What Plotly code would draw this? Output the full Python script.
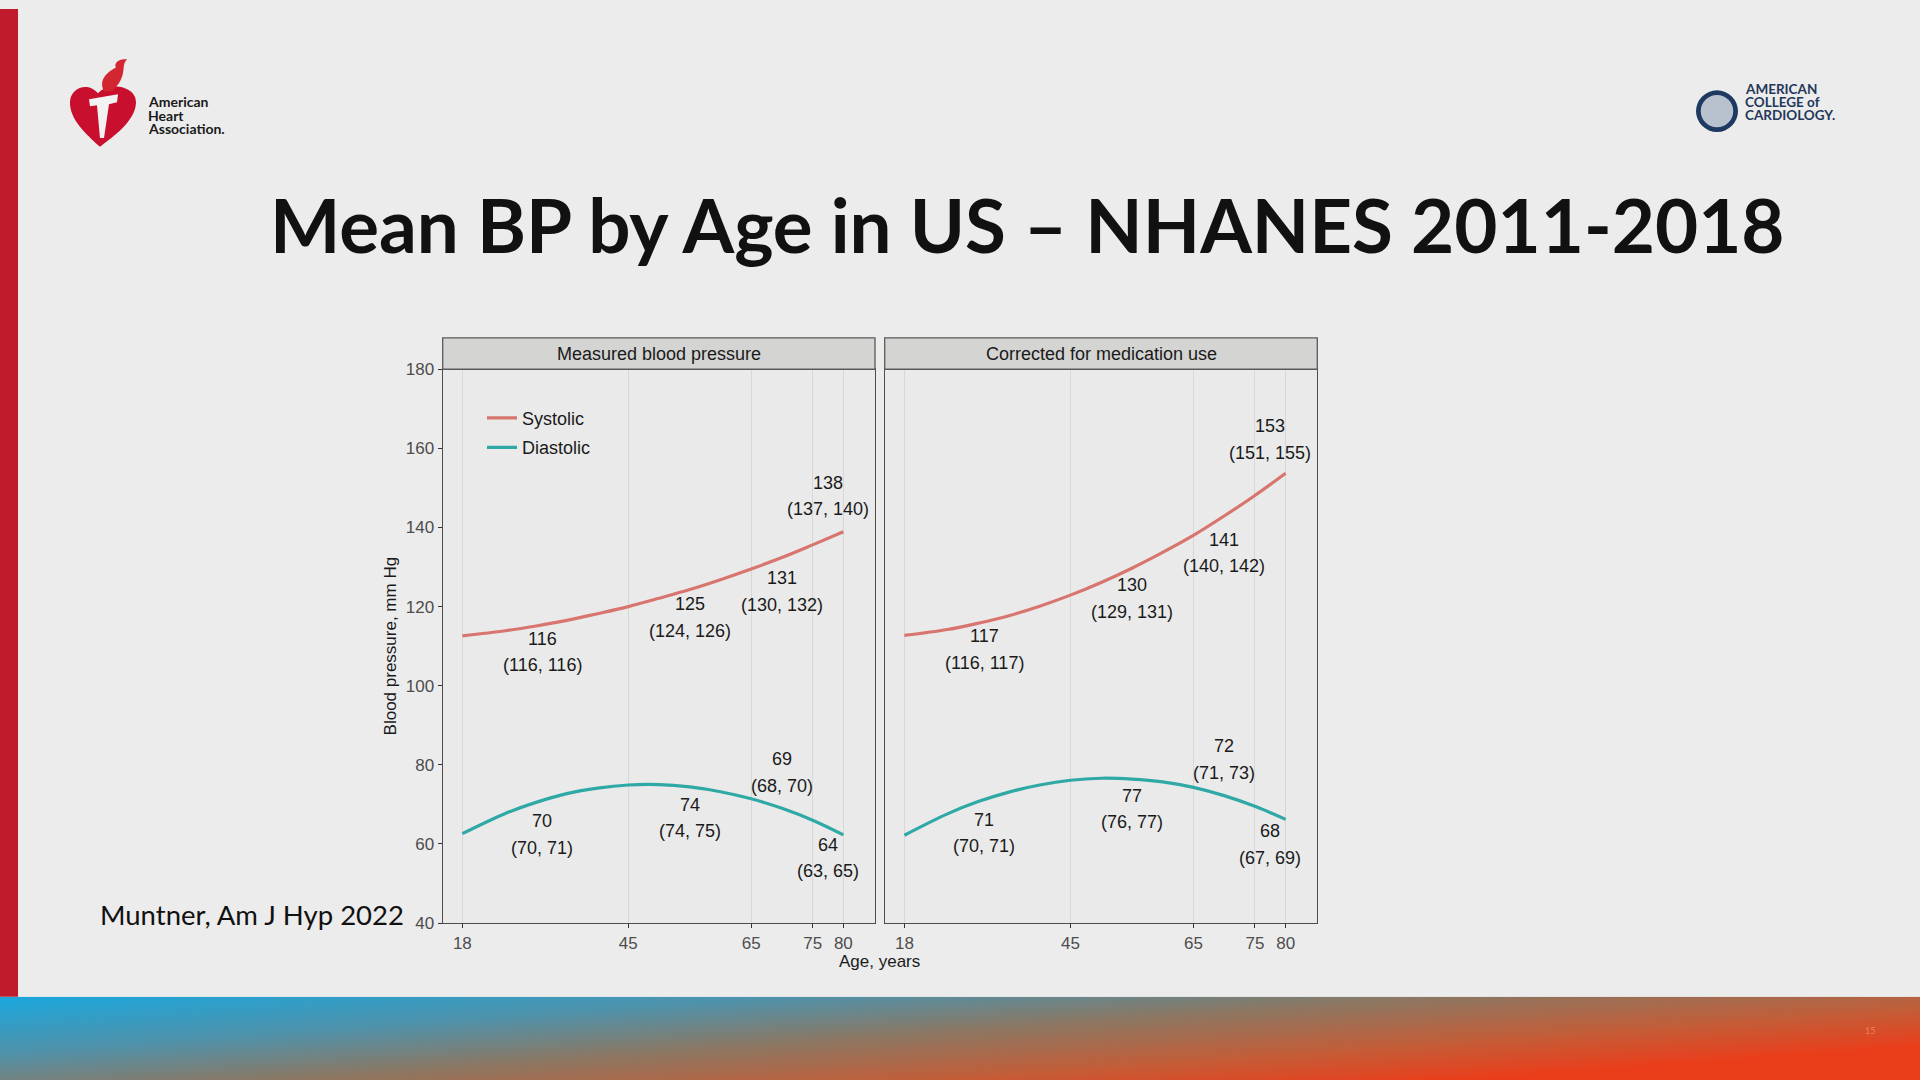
import base64
import plotly.graph_objects as go

W, H = 1920, 1080

ages = [18, 25, 30, 35, 40, 45, 50, 55, 60, 65, 70, 75, 80]

# measured blood pressure (mm Hg)
sbp_measured = [112.6, 113.9, 115.1, 116.5, 118.2, 120.0, 122.1, 124.3, 126.8, 129.5, 132.4, 135.6, 138.9]
dbp_measured = [62.6, 67.7, 70.5, 72.7, 74.1, 74.9, 75.0, 74.4, 73.2, 71.4, 69.0, 66.0, 62.3]

# corrected for medication use (mm Hg)
sbp_corrected = [112.7, 114.2, 115.8, 117.7, 120.1, 122.9, 126.1, 129.7, 133.7, 138.0, 142.9, 148.1, 153.7]
dbp_corrected = [62.2, 67.6, 70.7, 73.1, 74.9, 76.1, 76.6, 76.4, 75.7, 74.3, 72.2, 69.5, 66.2]

# age-group means with 95% CI: 18-44, 45-64, 65-74, 75+
group_mid = [31, 55, 70, 77.5]
sbp_meas_mean = [116, 125, 131, 138]
sbp_meas_ci = [(116, 116), (124, 126), (130, 132), (137, 140)]
dbp_meas_mean = [70, 74, 69, 64]
dbp_meas_ci = [(70, 71), (74, 75), (68, 70), (63, 65)]
sbp_corr_mean = [117, 130, 141, 153]
sbp_corr_ci = [(116, 117), (129, 131), (140, 142), (151, 155)]
dbp_corr_mean = [71, 77, 72, 68]
dbp_corr_ci = [(70, 71), (76, 77), (71, 73), (67, 69)]

# where each two-line label is centred (y in mm Hg)
label_y_sbp_meas = [108.5, 117.3, 123.8, 148.0]
label_y_dbp_meas = [62.4, 66.6, 78.1, 56.4]
label_y_sbp_corr = [109.2, 122.1, 133.6, 162.3]
label_y_dbp_corr = [62.8, 68.8, 81.3, 59.9]

x_ticks = [18, 45, 65, 75, 80]
y_ticks = [40, 60, 80, 100, 120, 140, 160, 180]
panel_titles = ["Measured blood pressure", "Corrected for medication use"]

SYS_COLOR = "#d8756f"
DIA_COLOR = "#2fa9a5"
FONT = "Liberation Sans"


def px(x, y):
    # slide pixel position -> paper coordinates
    return f"{x / W:.5f},{1 - y / H:.5f}"


def paper_text(x, y, text, size, color="#111111", family="Lato", xanchor="center"):
    return dict(x=x / W, y=1 - y / H, xref="paper", yref="paper", showarrow=False,
                xanchor=xanchor, yanchor="middle", text=text,
                font=dict(family=family, size=size, color=color))


fig = go.Figure()

fig.add_trace(go.Scatter(x=ages, y=sbp_measured, mode="lines", name="Systolic", legendgroup="sys",
                         line=dict(color=SYS_COLOR, width=3.2, shape="spline"), xaxis="x", yaxis="y"))
fig.add_trace(go.Scatter(x=ages, y=dbp_measured, mode="lines", name="Diastolic", legendgroup="dia",
                         line=dict(color=DIA_COLOR, width=3.2, shape="spline"), xaxis="x", yaxis="y"))
fig.add_trace(go.Scatter(x=ages, y=sbp_corrected, mode="lines", name="Systolic", legendgroup="sys",
                         showlegend=False, line=dict(color=SYS_COLOR, width=3.2, shape="spline"),
                         xaxis="x2", yaxis="y2"))
fig.add_trace(go.Scatter(x=ages, y=dbp_corrected, mode="lines", name="Diastolic", legendgroup="dia",
                         showlegend=False, line=dict(color=DIA_COLOR, width=3.2, shape="spline"),
                         xaxis="x2", yaxis="y2"))

annotations = []
label_sets = [
    ("x", "y", sbp_meas_mean, sbp_meas_ci, label_y_sbp_meas),
    ("x", "y", dbp_meas_mean, dbp_meas_ci, label_y_dbp_meas),
    ("x2", "y2", sbp_corr_mean, sbp_corr_ci, label_y_sbp_corr),
    ("x2", "y2", dbp_corr_mean, dbp_corr_ci, label_y_dbp_corr),
]
for xr, yr, means, cis, ys in label_sets:
    for xm, m, (lo, hi), yl in zip(group_mid, means, cis, ys):
        for txt, shift in [(f"{m}", 13.3), (f"({lo}, {hi})", -13.3)]:
            annotations.append(dict(x=xm, y=yl, xref=xr, yref=yr, showarrow=False, yshift=shift,
                                    xanchor="center", yanchor="middle", text=txt,
                                    font=dict(family=FONT, size=18, color="#1a1a1a")))

# panel geometry (paper)
x_dom1 = [442.7 / W, 875 / W]
x_dom2 = [884.7 / W, 1317.3 / W]
y_dom = [1 - 921.7 / H, 1 - 363.3 / H]
strip_top = 1 - 331.7 / H

shapes = []
for dom, title in zip([x_dom1, x_dom2], panel_titles):
    shapes.append(dict(type="rect", xref="paper", yref="paper", x0=dom[0], x1=dom[1],
                       y0=y_dom[1], y1=strip_top, fillcolor="#d4d4d2",
                       line=dict(color="#5a5a5a", width=1.3)))
    annotations.append(paper_text((dom[0] + dom[1]) / 2 * W, 347.5, title, 18, "#1a1a1a", FONT))

annotations.append(paper_text(879, 961, "Age, years", 17, "#1a1a1a", FONT))

# slide decorations
shapes.append(dict(type="rect", xref="paper", yref="paper", x0=0, x1=18 / W, y0=1 - 996 / H, y1=1,
                   fillcolor="#bf1b2c", line=dict(width=0)))

heart = ("M" + px(100, 139) + " C" + px(86, 126) + " " + px(69, 111) + " " + px(70, 93)
         + " C" + px(71, 79) + " " + px(88, 73) + " " + px(98, 85)
         + " C" + px(108, 73) + " " + px(137, 77) + " " + px(136, 95)
         + " C" + px(135, 113) + " " + px(114, 128) + " " + px(100, 139) + " Z")
flame = ("M" + px(104, 83) + " C" + px(98, 71) + " " + px(108, 63) + " " + px(116, 59)
         + " C" + px(113, 54) + " " + px(121, 49) + " " + px(127, 51)
         + " C" + px(120, 57) + " " + px(129, 67) + " " + px(112, 83) + " Z")
torch = ("M" + px(89, 91) + " L" + px(118, 86) + " L" + px(117, 94) + " L" + px(109, 96)
         + " L" + px(104, 130) + " L" + px(100, 130) + " L" + px(97, 97) + " L" + px(90, 98) + " Z")
shapes.append(dict(type="path", xref="paper", yref="paper", path=heart, fillcolor="#c8102e", line=dict(width=0)))
shapes.append(dict(type="path", xref="paper", yref="paper", path=flame, fillcolor="#d22630", line=dict(width=0)))
shapes.append(dict(type="path", xref="paper", yref="paper", path=torch, fillcolor="#f2f2f2", line=dict(width=0)))

for i, word in enumerate(["American", "Heart", "Association."]):
    annotations.append(paper_text(146, 93.5 + 13.5 * i, f"<b>{word}</b>", 14, "#1a1a1a", xanchor="left"))

shapes.append(dict(type="circle", xref="paper", yref="paper", x0=1696 / W, x1=1738 / W,
                   y0=1 - 124 / H, y1=1 - 82 / H, fillcolor="#1f3a60", line=dict(width=0)))
shapes.append(dict(type="circle", xref="paper", yref="paper", x0=1700 / W, x1=1734 / W,
                   y0=1 - 120 / H, y1=1 - 86 / H, fillcolor="#b8c2cf", line=dict(color="#1f3a60", width=1.5)))
for i, word in enumerate(["AMERICAN", "COLLEGE of", "CARDIOLOGY."]):
    annotations.append(paper_text(1743, 81 + 13 * i, f"<b>{word}</b>", 13.5, "#23375a", xanchor="left"))

annotations.append(paper_text(1027.5, 217, "<b>Mean BP by Age in US – NHANES 2011-2018</b>", 74.5))
annotations.append(paper_text(252, 913, "Muntner, Am J Hyp 2022", 27.5))
annotations.append(paper_text(1870, 1030, "15", 9, "#e8845a"))

# bottom colour band
band_svg = ('<svg xmlns="http://www.w3.org/2000/svg" width="1920" height="84" preserveAspectRatio="none">'
            '<defs><linearGradient id="g" x1="0" y1="0" x2="1" y2="0.6">'
            '<stop offset="0" stop-color="#1aa7dd"/><stop offset="0.3" stop-color="#4f92ab"/>'
            '<stop offset="0.55" stop-color="#8c7762"/><stop offset="0.8" stop-color="#c35d38"/>'
            '<stop offset="1" stop-color="#ea3e1b"/></linearGradient></defs>'
            '<rect width="1920" height="84" fill="url(#g)"/></svg>')
band_src = "data:image/svg+xml;base64," + base64.b64encode(band_svg.encode()).decode()

axis_common = dict(showline=True, linecolor="#4d4d4d", linewidth=1.3, mirror=True, zeroline=False,
                   ticklen=4, tickcolor="#333333",
                   tickfont=dict(family=FONT, size=17, color="#4d4d4d"))

fig.update_layout(
    # the photographed area comes out ~10px taller than the window, so fill that too
    width=W, height=1090,
    margin=dict(l=0, r=0, t=0, b=0),
    paper_bgcolor="#ececec",
    plot_bgcolor="#eaeaea",
    showlegend=True,
    legend=dict(x=482 / W, y=1 - 394 / H, xanchor="left", yanchor="top", bgcolor="rgba(0,0,0,0)",
                traceorder="grouped", tracegroupgap=3,
                font=dict(family=FONT, size=18, color="#1a1a1a")),
    xaxis=dict(domain=x_dom1, range=[14.8, 85.15], tickvals=x_ticks, anchor="y", ticks="outside",
               showgrid=True, gridcolor="#d7d7d7", gridwidth=1, **axis_common),
    xaxis2=dict(domain=x_dom2, range=[14.8, 85.15], tickvals=x_ticks, anchor="y2", ticks="outside",
                showgrid=True, gridcolor="#d7d7d7", gridwidth=1, **axis_common),
    yaxis=dict(domain=y_dom, range=[40, 180], tickvals=y_ticks, anchor="x", showgrid=False, ticks="outside",
               title=dict(text="Blood pressure, mm Hg", standoff=4,
                          font=dict(family=FONT, size=17, color="#1a1a1a")), **axis_common),
    yaxis2=dict(domain=y_dom, range=[40, 180], tickvals=y_ticks, anchor="x2", showgrid=False,
                matches="y", showticklabels=False, ticks="", **axis_common),
    shapes=shapes,
    annotations=annotations,
    images=[dict(source=band_src, xref="paper", yref="paper", x=0, y=84 / H, sizex=1, sizey=84 / H,
                 xanchor="left", yanchor="top", sizing="stretch", layer="above")],
)

# drop the page's default body margin so the figure starts at the window corner
fig.write_html("out.html", config={"displayModeBar": False},
               post_script="document.body.style.margin='0';")
